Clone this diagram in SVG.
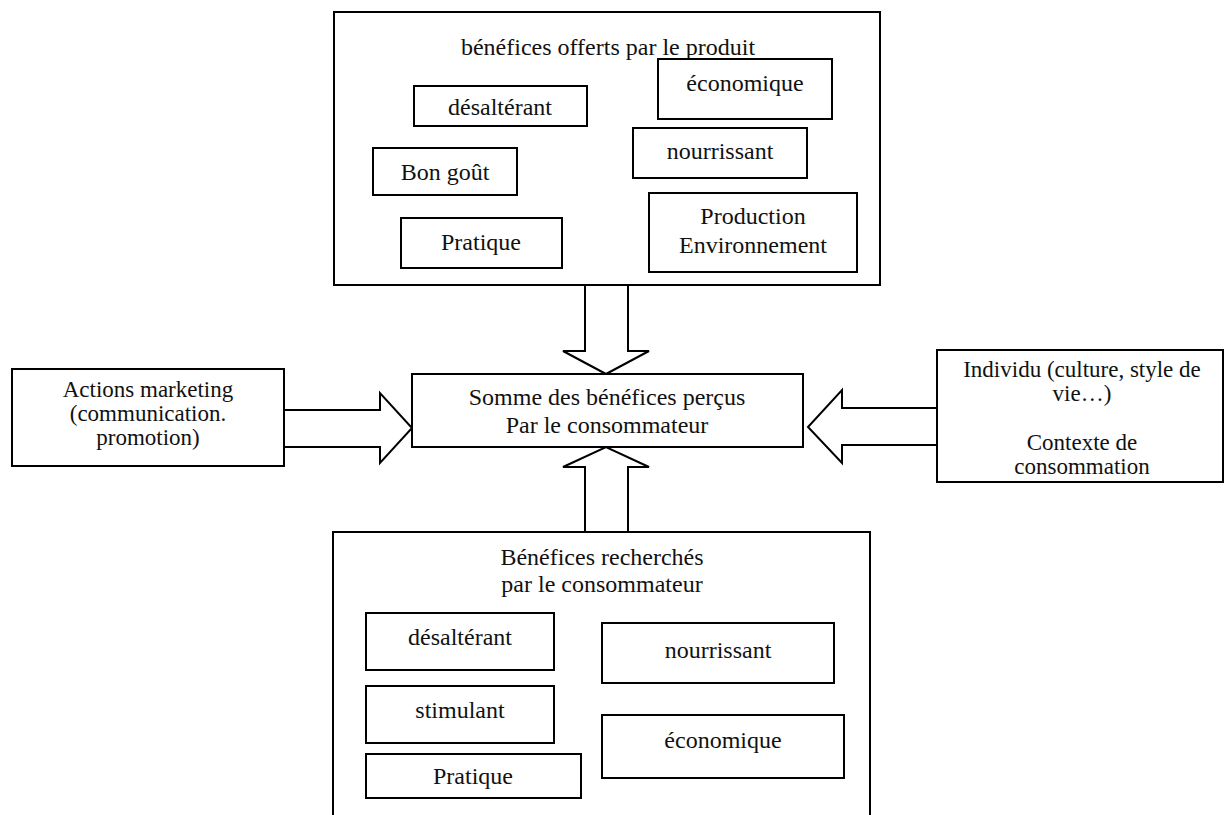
<svg xmlns="http://www.w3.org/2000/svg" width="1226" height="815" viewBox="0 0 1226 815">
  <style>
    .box { fill: #ffffff; stroke: #000000; stroke-width: 2; }
    .item { fill: #ffffff; stroke: #000000; stroke-width: 2; }
    .blk { fill: #ffffff; stroke: #000000; stroke-width: 2; stroke-linejoin: miter; }
    text { font-family: "Liberation Serif", "Times New Roman", serif; font-size: 24px; fill: #111111; text-anchor: middle; }
    .tight { font-size: 23px; }
  </style>
  <rect x="0" y="0" width="1226" height="815" fill="#ffffff"/>

  <!-- block arrows towards the central box -->
  <g id="connectors">
    <polygon class="blk" points="585,285 628,285 628,351 649,351 606,374 563,351 585,351"/>
    <polygon class="blk" points="585,532 628,532 628,467 649,467 606,447 563,467 585,467"/>
    <polygon class="blk" points="284,410 380,410 380,393 412,428 380,463 380,447 284,447"/>
    <polygon class="blk" points="937,408 842,408 842,390 808,427 842,463 842,445 937,445"/>
  </g>

  <!-- benefits offered by the product -->
  <g id="offered">
    <rect class="box" x="334" y="12" width="546" height="273"/>
    <text x="608" y="55">bénéfices offerts par le produit</text>
    <g id="offered-desalterant">
      <rect class="item" x="414" y="86" width="173" height="40"/>
      <text x="500" y="115">désaltérant</text>
    </g>
    <g id="offered-economique">
      <rect class="item" x="658" y="59" width="174" height="60"/>
      <text x="745" y="91">économique</text>
    </g>
    <g id="offered-bon-gout">
      <rect class="item" x="373" y="148" width="144" height="47"/>
      <text x="445" y="180">Bon goût</text>
    </g>
    <g id="offered-nourrissant">
      <rect class="item" x="633" y="128" width="174" height="50"/>
      <text x="720" y="159">nourrissant</text>
    </g>
    <g id="offered-pratique">
      <rect class="item" x="401" y="218" width="161" height="50"/>
      <text x="481" y="250">Pratique</text>
    </g>
    <g id="offered-production">
      <rect class="item" x="649" y="193" width="208" height="79"/>
      <text x="753" y="224">Production</text>
      <text x="753" y="253">Environnement</text>
    </g>
  </g>

  <!-- perceived sum -->
  <g id="perceived">
    <rect class="box" x="412" y="374" width="391" height="73"/>
    <text x="607" y="405">Somme des bénéfices perçus</text>
    <text x="607" y="433">Par le consommateur</text>
  </g>

  <!-- marketing actions -->
  <g id="marketing">
    <rect class="box" x="12" y="369" width="272" height="97"/>
    <text class="tight" x="148" y="397">Actions marketing</text>
    <text class="tight" x="148" y="421">(communication.</text>
    <text class="tight" x="148" y="445">promotion)</text>
  </g>

  <!-- individual and context -->
  <g id="individual">
    <rect class="box" x="937" y="350" width="286" height="132"/>
    <text class="tight" x="1082" y="377">Individu (culture, style de</text>
    <text class="tight" x="1082" y="401">vie…)</text>
    <text class="tight" x="1082" y="450">Contexte de</text>
    <text class="tight" x="1082" y="474">consommation</text>
  </g>

  <!-- benefits sought by the consumer -->
  <g id="sought">
    <rect class="box" x="333" y="532" width="537" height="300"/>
    <text x="602" y="565">Bénéfices recherchés</text>
    <text x="602" y="592">par le consommateur</text>
    <g id="sought-desalterant">
      <rect class="item" x="366" y="613" width="188" height="57"/>
      <text x="460" y="645">désaltérant</text>
    </g>
    <g id="sought-nourrissant">
      <rect class="item" x="602" y="623" width="232" height="60"/>
      <text x="718" y="658">nourrissant</text>
    </g>
    <g id="sought-stimulant">
      <rect class="item" x="366" y="686" width="188" height="57"/>
      <text x="460" y="718">stimulant</text>
    </g>
    <g id="sought-economique">
      <rect class="item" x="602" y="715" width="242" height="63"/>
      <text x="723" y="748">économique</text>
    </g>
    <g id="sought-pratique">
      <rect class="item" x="366" y="754" width="215" height="44"/>
      <text x="473" y="784">Pratique</text>
    </g>
  </g>
</svg>
